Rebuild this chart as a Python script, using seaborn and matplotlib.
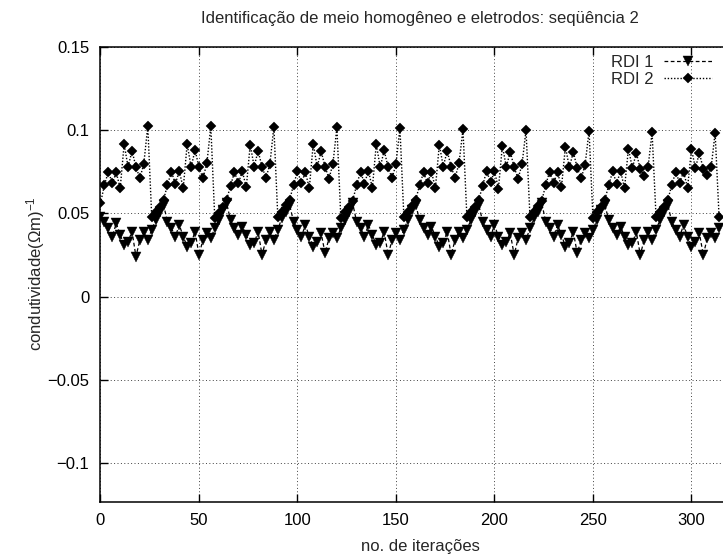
import matplotlib
matplotlib.use("Agg")
import matplotlib.pyplot as plt
import seaborn as sns
import pandas as pd
from matplotlib.ticker import FixedLocator, FixedFormatter

# ---------------- data ----------------
title = "Identificação de meio homogêneo e eletrodos: seqüência 2"
xlabel = "no. de iterações"
ylabel = "condutividade(Ωm)$^{-1}$"
series_names = ["RDI 1", "RDI 2"]

iteracoes = list(range(0, 316, 2))

rdi1 = [
    0.048, 0.045, 0.041, 0.036, 0.044, 0.037, 0.031, 0.033, 0.039, 0.024, 0.034, 0.039,
    0.034, 0.040, 0.046, 0.051, 0.055, 0.045, 0.041, 0.036, 0.043, 0.036, 0.030, 0.032, 0.039, 0.025, 0.034, 0.038,
    0.035, 0.041, 0.046, 0.052, 0.056, 0.046, 0.041, 0.037, 0.042, 0.037, 0.031, 0.032, 0.039, 0.025, 0.034, 0.039,
    0.034, 0.040, 0.047, 0.051, 0.055, 0.045, 0.040, 0.036, 0.043, 0.036, 0.030, 0.033, 0.038, 0.026, 0.035, 0.038,
    0.035, 0.041, 0.046, 0.051, 0.056, 0.045, 0.041, 0.036, 0.043, 0.037, 0.031, 0.032, 0.039, 0.025, 0.034, 0.038,
    0.034, 0.040, 0.046, 0.052, 0.055, 0.046, 0.041, 0.037, 0.042, 0.036, 0.030, 0.032, 0.039, 0.025, 0.034, 0.039,
    0.035, 0.040, 0.046, 0.051, 0.055, 0.045, 0.040, 0.036, 0.043, 0.036, 0.031, 0.033, 0.038, 0.025, 0.035, 0.038,
    0.034, 0.041, 0.047, 0.051, 0.056, 0.045, 0.041, 0.036, 0.043, 0.037, 0.030, 0.032, 0.039, 0.026, 0.034, 0.038,
    0.035, 0.040, 0.046, 0.052, 0.055, 0.046, 0.041, 0.037, 0.042, 0.036, 0.031, 0.032, 0.039, 0.025, 0.034, 0.039,
    0.034, 0.040, 0.046, 0.051, 0.055, 0.045, 0.040, 0.036, 0.043, 0.036, 0.030, 0.033, 0.038, 0.025, 0.035, 0.038,
    0.035, 0.041,
]

rdi2 = [
    0.056, 0.067, 0.075, 0.068, 0.0745, 0.065, 0.0915, 0.0778, 0.0875, 0.0778, 0.071, 0.0798,
    0.1024, 0.048, 0.051, 0.054, 0.058, 0.067, 0.075, 0.0676, 0.0754, 0.065, 0.0916, 0.0776, 0.088, 0.0776, 0.071, 0.080,
    0.1022, 0.047, 0.050, 0.054, 0.058, 0.0665, 0.0748, 0.068, 0.0752, 0.0655, 0.0912, 0.078, 0.0875, 0.0778, 0.0712, 0.0795,
    0.1020, 0.048, 0.051, 0.055, 0.058, 0.067, 0.0752, 0.0682, 0.0748, 0.065, 0.0918, 0.0778, 0.0872, 0.078, 0.0708, 0.0798,
    0.1015, 0.047, 0.051, 0.054, 0.0575, 0.0668, 0.075, 0.0678, 0.0755, 0.0652, 0.0915, 0.0775, 0.0878, 0.0776, 0.071, 0.0796,
    0.1012, 0.048, 0.0505, 0.0545, 0.058, 0.067, 0.0745, 0.068, 0.075, 0.065, 0.0912, 0.078, 0.0875, 0.0778, 0.0712, 0.080,
    0.1004, 0.0475, 0.051, 0.054, 0.058, 0.0665, 0.0755, 0.0685, 0.0752, 0.0648, 0.0905, 0.0778, 0.0870, 0.0775, 0.0708, 0.0795,
    0.1000, 0.048, 0.051, 0.0545, 0.0575, 0.067, 0.075, 0.068, 0.0748, 0.0655, 0.0900, 0.0775, 0.0868, 0.0772, 0.071, 0.0790,
    0.0995, 0.047, 0.0505, 0.054, 0.058, 0.0668, 0.0752, 0.0678, 0.0754, 0.065, 0.0888, 0.0770, 0.0864, 0.0765, 0.0725, 0.0780,
    0.0986, 0.048, 0.051, 0.054, 0.058, 0.067, 0.0748, 0.0682, 0.075, 0.0652, 0.0885, 0.0770, 0.0864, 0.0764, 0.0730, 0.0776,
    0.0984, 0.048,
]

xticks = [0, 50, 100, 150, 200, 250, 300]
xtick_labels = ["0", "50", "100", "150", "200", "250", "300"]
yticks = [-0.1, -0.05, 0, 0.05, 0.1, 0.15]
ytick_labels = ["\u22120.1", "\u22120.05", "0", "0.05", "0.1", "0.15"]

df = pd.DataFrame({
    "iter": iteracoes * 2,
    "valor": rdi1 + rdi2,
    "serie": [series_names[0]] * len(rdi1) + [series_names[1]] * len(rdi2),
})

# ---------------- style ----------------
sns.set_theme(style="ticks")
plt.rcParams["font.family"] = ["Liberation Sans", "DejaVu Sans"]
plt.rcParams["mathtext.fontset"] = "custom"
plt.rcParams["mathtext.rm"] = "Liberation Sans"
plt.rcParams["mathtext.it"] = "Liberation Sans:italic"
plt.rcParams["mathtext.default"] = "regular"

fig = plt.figure(figsize=(7.23, 5.60), dpi=100)
fig.patch.set_facecolor("white")
ax = fig.add_axes([0.139, 0.1041, 0.861, 0.8125])
ax.set_facecolor("white")

sns.lineplot(data=df[df["serie"] == series_names[0]], x="iter", y="valor", ax=ax,
             color="black", marker="v", markersize=6.5, markeredgecolor="black",
             markeredgewidth=0.3, linewidth=0.9, linestyle=(0, (3, 2)),
             label=series_names[0], legend=False)
sns.lineplot(data=df[df["serie"] == series_names[1]], x="iter", y="valor", ax=ax,
             color="black", marker="D", markersize=4.6, markeredgecolor="black",
             markeredgewidth=0.3, linewidth=1.0, linestyle=(0, (1, 1.3)),
             label=series_names[1], legend=False)

ax.set_xlim(0, 316)
ax.set_ylim(-0.1232, 0.15)
ax.xaxis.set_major_locator(FixedLocator(xticks))
ax.xaxis.set_major_formatter(FixedFormatter(xtick_labels))
ax.yaxis.set_major_locator(FixedLocator(yticks))
ax.yaxis.set_major_formatter(FixedFormatter(ytick_labels))
ax.set_xlabel("")
ax.set_ylabel("")

ax.grid(True, which="major", color="black", linestyle=(0, (1, 2.5)), linewidth=0.7, alpha=0.75)
ax.tick_params(direction="in", length=6, width=1, top=True, right=False,
               labelsize=12, pad=8, colors="black")
for side in ["left", "bottom", "top"]:
    ax.spines[side].set_linewidth(1.1)
    ax.spines[side].set_color("black")
ax.spines["right"].set_visible(False)

handles = ax.get_lines()[:2]
leg = ax.legend(handles, series_names, loc="upper right", frameon=False,
                markerfirst=False, fontsize=12, handlelength=2.9,
                handletextpad=0.6, labelspacing=0.12, borderpad=0,
                borderaxespad=0, bbox_to_anchor=(712 / 723, 1 - 55 / 560),
                bbox_transform=fig.transFigure)

fig.text(420 / 723, 1 - 18 / 560, title, ha="center", va="center", fontsize=12)
fig.text(420 / 723, 1 - 546 / 560, xlabel, ha="center", va="center", fontsize=12)
fig.text(36 / 723, 1 - 274 / 560, ylabel, ha="center", va="center", rotation=90, fontsize=12)

fig.savefig("out.png", dpi=100, facecolor="white")
